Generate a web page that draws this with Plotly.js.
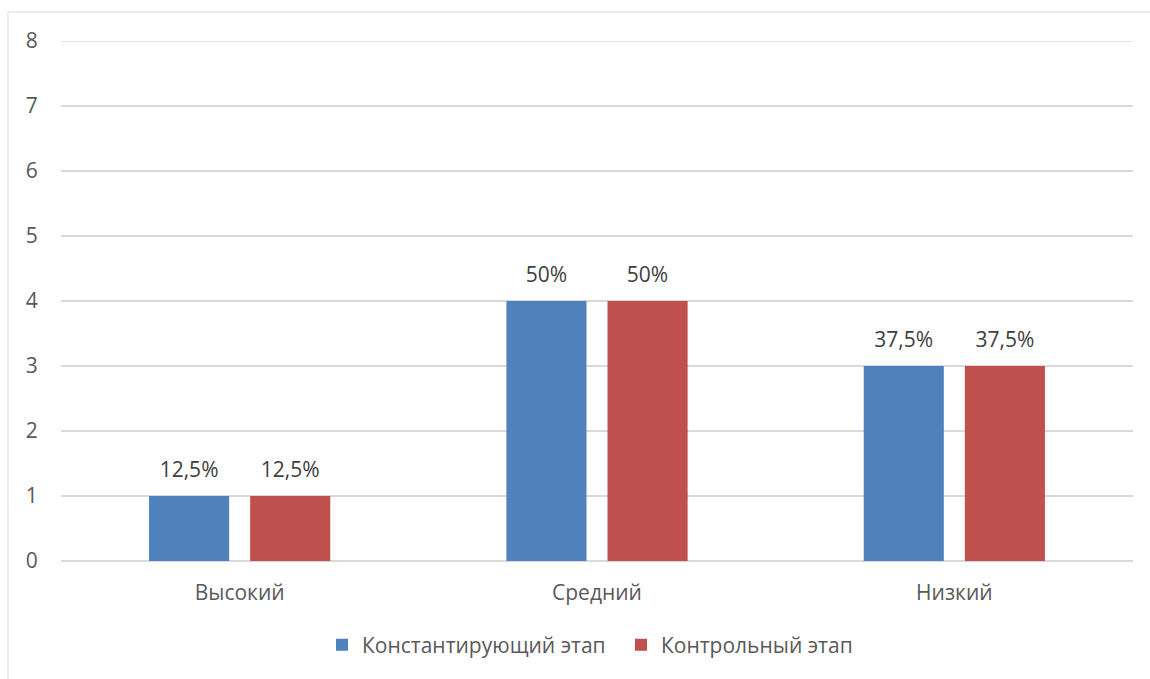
<!DOCTYPE html>
<html>
<head>
<meta charset="utf-8">
<script src="https://cdn.plot.ly/plotly-3.0.1.min.js"></script>
<style>
  html, body { margin: 0; padding: 0; background: #fff; }
  #chart { width: 1150px; height: 679px; }
</style>
</head>
<body>
<div id="chart"></div>
<script>
// Уровни и число учащихся на каждом этапе
const levels = ['Высокий', 'Средний', 'Низкий'];
const seriesNames = ['Константирующий этап', 'Контрольный этап'];
const ascertainingCounts = [1, 4, 3];
const controlCounts = [1, 4, 3];
const totalStudents = 8;
const yTicks = [0, 1, 2, 3, 4, 5, 6, 7, 8];

// Подпись: доля от общего числа, с запятой как десятичным разделителем
function pctLabel(v) {
  const p = Math.round(v / totalStudents * 1000) / 10;
  return String(p).replace('.', ',') + '%';
}

const fontFamily = 'Open Sans, Noto Sans, sans-serif';
const fontSize = 21;
const textColor = '#595959';
const colors = ['#4f81bd', '#c0504d'];
const seriesValues = [ascertainingCounts, controlCounts];

const data = [];
seriesValues.forEach((values, i) => {
  data.push({
    type: 'bar',
    name: seriesNames[i],
    x: levels,
    y: values,
    offsetgroup: 'g' + i,
    marker: { color: colors[i] },
    hoverinfo: 'skip'
  });
});
// Подписи над столбцами: невидимые маркеры, выровненные по группам столбцов
seriesValues.forEach((values, i) => {
  data.push({
    type: 'scatter',
    mode: 'markers+text',
    x: levels,
    y: values,
    offsetgroup: 'g' + i,
    text: values.map(pctLabel),
    textposition: 'top center',
    textfont: { family: fontFamily, size: fontSize, color: '#404040' },
    marker: { size: 20, opacity: 0 },
    cliponaxis: false,
    showlegend: false,
    hoverinfo: 'skip'
  });
});

const L = 61, R = 17, T = 41, B = 118;
const W = 1150, H = 679;
const pw = W - L - R, ph = H - T - B;

const layout = {
  width: W,
  height: H,
  margin: { l: L, r: R, t: T, b: B, pad: 0 },
  paper_bgcolor: '#ffffff',
  plot_bgcolor: '#ffffff',
  font: { family: fontFamily, size: fontSize, color: textColor },
  barmode: 'group',
  bargap: 0.434,
  bargroupgap: 0.208,
  scattermode: 'group',
  scattergap: 0.434,
  showlegend: true,
  legend: {
    orientation: 'h',
    x: (322 - L) / pw,
    xanchor: 'left',
    y: (T + ph - 645) / ph,
    yanchor: 'middle',
    font: { family: fontFamily, size: fontSize, color: textColor },
    itemwidth: 30,
    entrywidth: 254,
    entrywidthmode: 'pixels',
    traceorder: 'normal'
  },
  xaxis: {
    type: 'category',
    showgrid: false,
    zeroline: false,
    showline: false,
    ticks: 'outside',
    ticklen: 13,
    tickcolor: 'rgba(0,0,0,0)',
    tickfont: { family: fontFamily, size: fontSize, color: textColor }
  },
  yaxis: {
    range: [0, 8],
    tickvals: yTicks,
    ticktext: yTicks.map(String),
    showgrid: true,
    gridcolor: '#d9d9d9',
    gridwidth: 1.5,
    zeroline: true,
    zerolinecolor: '#d9d9d9',
    zerolinewidth: 1.5,
    showline: false,
    ticks: 'outside',
    ticklen: 18,
    tickcolor: 'rgba(0,0,0,0)',
    tickfont: { family: fontFamily, size: fontSize, color: textColor }
  },
  shapes: [
    {
      // верхняя линия сетки на максимуме шкалы
      type: 'line',
      xref: 'paper', yref: 'y',
      x0: 0, x1: 1,
      y0: yTicks[yTicks.length - 1], y1: yTicks[yTicks.length - 1],
      line: { color: '#d9d9d9', width: 1.5 },
      layer: 'below'
    },
    {
      // рамка области диаграммы
      type: 'rect',
      xref: 'paper', yref: 'paper',
      x0: (8 - L) / pw, x1: (W + 20 - L) / pw,
      y0: (T + ph - (H + 20)) / ph, y1: (T + ph - 12) / ph,
      line: { color: '#d9d9d9', width: 1 },
      fillcolor: 'rgba(0,0,0,0)',
      layer: 'below'
    }
  ]
};

Plotly.newPlot('chart', data, layout, { displayModeBar: false, staticPlot: true });
</script>
</body>
</html>
